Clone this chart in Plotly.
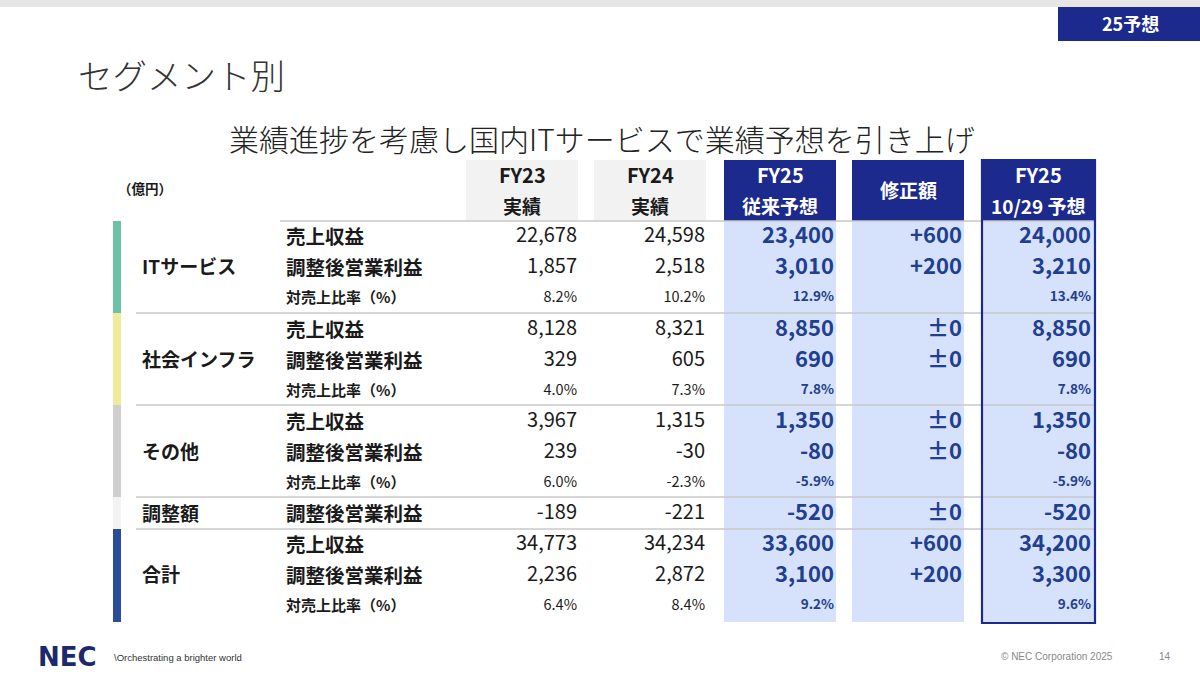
import plotly.graph_objects as go

# ---------------- data ----------------
segments = ["ITサービス", "社会インフラ", "その他", "調整額", "合計"]
segment_rows = [[0, 1, 2], [3, 4, 5], [6, 7, 8], [9], [10, 11, 12]]
items = ["売上収益", "調整後営業利益", "対売上比率（%）",
         "売上収益", "調整後営業利益", "対売上比率（%）",
         "売上収益", "調整後営業利益", "対売上比率（%）",
         "調整後営業利益",
         "売上収益", "調整後営業利益", "対売上比率（%）"]
is_ratio = [False, False, True, False, False, True, False, False, True, False, False, False, True]

fy23 = [22678, 1857, 8.2, 8128, 329, 4.0, 3967, 239, 6.0, -189, 34773, 2236, 6.4]
fy24 = [24598, 2518, 10.2, 8321, 605, 7.3, 1315, -30, -2.3, -221, 34234, 2872, 8.4]
fy25_prev = [23400, 3010, 12.9, 8850, 690, 7.8, 1350, -80, -5.9, -520, 33600, 3100, 9.2]
revision = [600, 200, None, 0, 0, None, 0, 0, None, 0, 600, 200, None]
fy25_new = [24000, 3210, 13.4, 8850, 690, 7.8, 1350, -80, -5.9, -520, 34200, 3300, 9.6]

headers = [["FY23", "実績"], ["FY24", "実績"], ["FY25", "従来予想"], ["修正額"], ["FY25", "10/29 予想"]]

# ---------------- style ----------------
NAVY = "#1c2a8e"
CELL_NAVY = "#213f8e"
LIGHT_BLUE = "#d6e1fb"
GRAY_HDR = "#f2f2f2"
LINE = "#c9c9c9"
TXT = "#1a1a1a"
JP = "Noto Sans CJK JP"
bar_colors = ["#6cc1a6", "#f0ea9c", "#cfcfcf", "#f3f3f3", "#2b4b9b"]

row_y = [237, 268, 298, 330, 361, 391, 422, 453, 483, 514, 545, 576, 606]
seg_bounds = [(221, 313), (313, 405), (405, 497), (497, 529), (529, 622)]
box_x = [(466, 578), (594, 706), (724, 836), (852, 964), (982, 1095)]
val_right = [577, 705, 834, 962, 1091]


def fmt_num(v, ratio):
    if v is None:
        return ""
    if ratio:
        return f"{v:.1f}%"
    return f"{v:,}"


def fmt_rev(v):
    if v is None:
        return ""
    if v == 0:
        return "±0"
    return f"{v:+,}"


fig = go.Figure()
shapes = []
annotations = []

# top band
shapes.append(dict(type="rect", x0=0, x1=1200, y0=0, y1=7, fillcolor="#e6e6e6", line_width=0, layer="below"))
# badge
shapes.append(dict(type="rect", x0=1058, x1=1200, y0=7, y1=41, fillcolor=NAVY, line_width=0, layer="below"))

# header boxes
for i, (x0, x1) in enumerate(box_x):
    fill = GRAY_HDR if i < 2 else NAVY
    shapes.append(dict(type="rect", x0=x0, x1=x1, y0=160, y1=221, fillcolor=fill, line_width=0, layer="below"))
# light blue columns
for (x0, x1) in box_x[2:]:
    shapes.append(dict(type="rect", x0=x0, x1=x1, y0=221, y1=622, fillcolor=LIGHT_BLUE, line_width=0, layer="below"))

# left colored bars
for (y0, y1), c in zip(seg_bounds, bar_colors):
    shapes.append(dict(type="rect", x0=113, x1=121, y0=y0, y1=y1, fillcolor=c, line_width=0, layer="below"))

# separator lines
shapes.append(dict(type="line", x0=280, x1=1095, y0=221, y1=221, line=dict(color=LINE, width=1.5), layer="below"))
for (y0, _y1) in seg_bounds[1:]:
    shapes.append(dict(type="line", x0=136, x1=1095, y0=y0, y1=y0, line=dict(color=LINE, width=1.5), layer="below"))

# outline for new forecast column
shapes.append(dict(type="rect", x0=982, x1=1095, y0=160, y1=623, fillcolor="rgba(0,0,0,0)",
                   line=dict(color=NAVY, width=2.2), layer="below"))

# ---------------- texts ----------------
annotations.append(dict(x=1130, y=23, text="<b>25予想</b>", showarrow=False, xanchor="center", yanchor="middle",
                        font=dict(family=JP, size=18, color="white")))
annotations.append(dict(x=76, y=74, text="セグメント別", showarrow=False, xanchor="left", yanchor="middle",
                        font=dict(family=JP, size=34.5, color="#333333", weight=300)))
annotations.append(dict(x=602, y=138, text="業績進捗を考慮し国内ITサービスで業績予想を引き上げ", showarrow=False,
                        xanchor="center", yanchor="middle", font=dict(family=JP, size=30, color="#222222", weight=300)))
annotations.append(dict(x=116, y=188, text="<b>（億円）</b>", showarrow=False, xanchor="left", yanchor="middle",
                        font=dict(family=JP, size=13.5, color=TXT)))

# column headers
for i, lines in enumerate(headers):
    cx = (box_x[i][0] + box_x[i][1]) / 2
    col = TXT if i < 2 else "white"
    if len(lines) == 1:
        annotations.append(dict(x=cx, y=189, text=f"<b>{lines[0]}</b>", showarrow=False, xanchor="center",
                                yanchor="middle", font=dict(family=JP, size=19, color=col)))
    else:
        annotations.append(dict(x=cx, y=174, text=f"<b>{lines[0]}</b>", showarrow=False, xanchor="center",
                                yanchor="middle", font=dict(family=JP, size=20, color=col)))
        annotations.append(dict(x=cx, y=205, text=f"<b>{lines[1]}</b>", showarrow=False, xanchor="center",
                                yanchor="middle", font=dict(family=JP, size=19, color=col)))

# segment labels
for seg, rows in zip(segments, segment_rows):
    yc = sum(row_y[r] for r in rows) / len(rows)
    annotations.append(dict(x=140, y=yc - 2, text=f"<b>{seg}</b>", showarrow=False, xanchor="left", yanchor="middle",
                            font=dict(family=JP, size=19, color=TXT)))

# item labels
for it, y, r in zip(items, row_y, is_ratio):
    annotations.append(dict(x=284, y=y - 2, text=f"<b>{it}</b>", showarrow=False, xanchor="left", yanchor="middle",
                            font=dict(family=JP, size=15 if r else 19.5, color=TXT)))

# values via text traces
columns = [
    ([fmt_num(v, r) for v, r in zip(fy23, is_ratio)], val_right[0], TXT, False),
    ([fmt_num(v, r) for v, r in zip(fy24, is_ratio)], val_right[1], TXT, False),
    ([fmt_num(v, r) for v, r in zip(fy25_prev, is_ratio)], val_right[2], CELL_NAVY, True),
    ([fmt_rev(v) for v in revision], val_right[3], CELL_NAVY, True),
    ([fmt_num(v, r) for v, r in zip(fy25_new, is_ratio)], val_right[4], CELL_NAVY, True),
]
for texts, xr, color, bold in columns:
    main_idx = [k for k in range(len(texts)) if not is_ratio[k]]
    ratio_idx = [k for k in range(len(texts)) if is_ratio[k]]
    fig.add_trace(go.Scatter(
        x=[xr] * len(main_idx), y=[row_y[k] for k in main_idx], text=[texts[k] for k in main_idx],
        mode="text", textposition="middle left", hoverinfo="skip", showlegend=False,
        textfont=dict(family=JP, size=22 if bold else 20, color=color, weight="bold" if bold else "normal")))
    fig.add_trace(go.Scatter(
        x=[xr] * len(ratio_idx), y=[row_y[k] for k in ratio_idx], text=[texts[k] for k in ratio_idx],
        mode="text", textposition="middle left", hoverinfo="skip", showlegend=False,
        textfont=dict(family=JP, size=13.5 if bold else 14.5, color=color, weight="bold" if bold else "normal")))

# footer
annotations.append(dict(x=36, y=657, text="<b>NEC</b>", showarrow=False, xanchor="left", yanchor="middle",
                        font=dict(family="DejaVu Sans", size=26, color="#1c2a6b")))
annotations.append(dict(x=112, y=657, text="\\Orchestrating a brighter world", showarrow=False, xanchor="left",
                        yanchor="middle", font=dict(family="Liberation Sans", size=9.5, color="#333333")))
annotations.append(dict(x=1115, y=656, text="© NEC Corporation 2025", showarrow=False, xanchor="right",
                        yanchor="middle", font=dict(family="Liberation Sans", size=10, color="#888888")))
annotations.append(dict(x=1165, y=656, text="14", showarrow=False, xanchor="center", yanchor="middle",
                        font=dict(family="Liberation Sans", size=10, color="#888888")))

fig.update_layout(
    width=1200, height=675, margin=dict(l=0, r=0, t=0, b=0),
    paper_bgcolor="white", plot_bgcolor="white",
    xaxis=dict(range=[0, 1200], visible=False, fixedrange=True),
    yaxis=dict(range=[675, 0], visible=False, fixedrange=True),
    shapes=shapes, annotations=annotations, showlegend=False,
)
fig.write_html("out.html", config={"displayModeBar": False},
               post_script="document.body.style.margin='0';document.body.style.padding='0';document.body.style.overflow='hidden';")
